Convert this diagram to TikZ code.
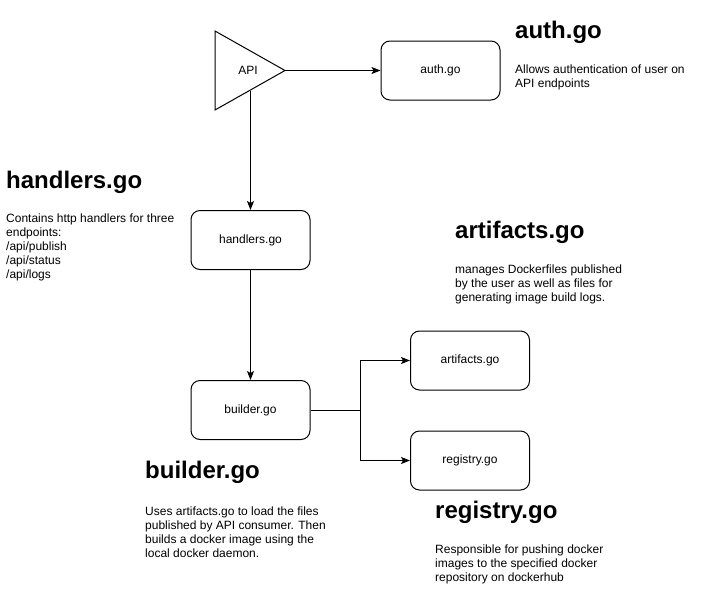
\documentclass[tikz,border=0pt]{standalone}
\usepackage{fontspec}
\setmainfont{Liberation Sans}
\usetikzlibrary{arrows.meta}
\tikzset{
  box/.style={draw, line width=1pt, rounded corners=9pt, minimum width=119pt, minimum height=59pt, inner sep=0pt, font=\fontsize{12}{14}\selectfont},
  head/.style={anchor=base west, inner sep=0pt, font=\fontsize{24}{28}\selectfont\bfseries},
  body/.style={anchor=base west, inner sep=0pt, align=left, font=\fontsize{12}{14}\selectfont},
  conn/.style={line width=1pt, -{Stealth[length=9pt,width=7pt,inset=2pt]}}
}
\begin{document}
\begin{tikzpicture}[x=1pt,y=-1pt]
\useasboundingbox[fill=white] (0,0) rectangle (701,611);
% API triangle
\draw[line width=1pt, line join=miter] (215,31) -- (285,70.5) -- (215,110) -- cycle;
\node[inner sep=0pt, font=\fontsize{12}{14}\selectfont] (api) at (248,70.5) {API};
\coordinate (apex) at (285,70.5);
\coordinate (apibot) at (250.5,90.5);
% boxes
\node[box] (auth) at (440.5,70.5) {auth.go};
\node[box] (handlers) at (250.5,240) {handlers.go};
\node[box] (builder) at (250.5,410) {builder.go};
\node[box] (artifacts) at (470,360.5) {artifacts.go};
\node[box] (registry) at (470,460.5) {registry.go};
% connectors
\draw[conn] (apex) -- (auth.west);
\draw[conn] (apibot) -- (handlers.north);
\draw[conn] (handlers.south) -- (builder.north);
\draw[conn] (builder.east) -- ++(50,0) |- (artifacts.west);
\draw[conn] (builder.east) -- ++(50,0) |- (registry.west);
% text blocks (body anchor = baseline of last line)
\node[head] (authh) at (515,38) {auth.go};
\node[body] (authb) at (515,87) {Allows authentication of user on\\API endpoints};
\node[head] (handh) at (6,188) {handlers.go};
\begin{scope}
\clip (0,200) rectangle (190,280);
\node[body] (handb) at (6,278) {Contains http handlers for three\\endpoints:\\/api/publish\\/api/status\\/api/logs};
\end{scope}
\node[head] (arth) at (455,238) {artifacts.go};
\node[body] (artb) at (455,301) {manages Dockerfiles published\\by the user as well as files for\\generating image build logs.};
\node[head] (buildh) at (145,478) {builder.go};
\node[body] (buildb) at (145,557) {Uses artifacts.go to load the files\\published by API consumer. Then\\builds a docker image using the\\local docker daemon.};
\node[head] (regh) at (435,518) {registry.go};
\node[body] (regb) at (435,581) {Responsible for pushing docker\\images to the specified docker\\repository on dockerhub};
\end{tikzpicture}
\end{document}
